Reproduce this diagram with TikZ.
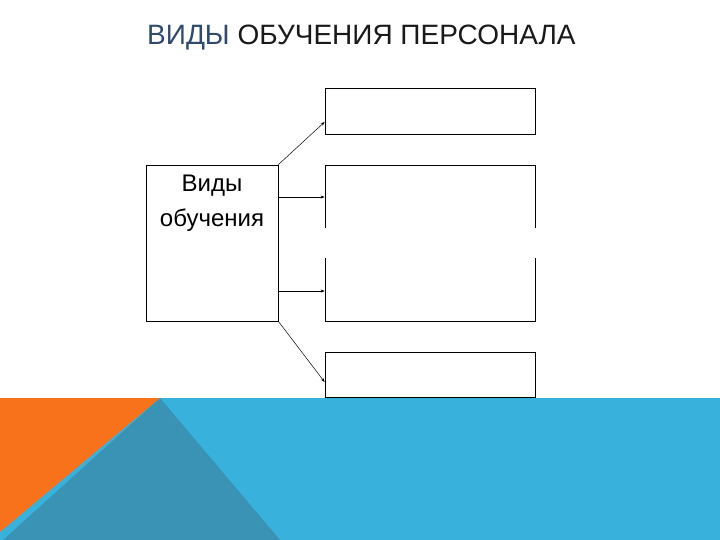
\documentclass[tikz,border=0pt]{standalone}
\usepackage{fontspec}
\setmainfont{Liberation Sans}
\usetikzlibrary{arrows.meta}
\definecolor{bandblue}{HTML}{38B2DC}
\definecolor{bandteal}{HTML}{3A93B4}
\definecolor{bandorange}{HTML}{F8721C}
\definecolor{titleblue}{HTML}{2F4A6D}

\begin{document}
\begin{tikzpicture}[x=1pt, y=-1pt,
    box/.style={draw, line width=0.8pt, minimum width=210pt, inner sep=0pt},
    link/.style={-{Stealth[length=4pt, width=3pt]}, line width=0.5pt},
    ttl/.style={font=\fontsize{28}{30}\selectfont, anchor=base west, inner sep=0pt}]
  \useasboundingbox (0,0) rectangle (720,540);

  % title
  \node[ttl] (title) at (147,45) {\textcolor{titleblue}{ВИДЫ} \textcolor{black!90}{ОБУЧЕНИЯ ПЕРСОНАЛА}};

  % --- left box ---
  \node[box, minimum width=132pt, minimum height=156pt] (kinds) at (212,243) {};
  \node[font=\fontsize{24}{35}\selectfont, align=center] (kindstxt) at (212,203) {Виды\\обучения};

  % --- right boxes ---
  \node[box, minimum height=46pt] (top) at (430,111) {};
  \node[box, minimum height=156pt] (mid) at (430,243) {};
  \fill[white] (318,228) rectangle (542,258);
  \node[box, minimum height=45pt] (low) at (430,375) {};

  % arrows
  \draw[link] (kinds.north east) -- ([yshift=-11pt]top.west);
  \draw[link] ([yshift=46pt]kinds.east) -- ([yshift=46pt]mid.west);
  \draw[link] ([yshift=-48pt]kinds.east) -- ([yshift=-48pt]mid.west);
  \draw[link] (kinds.south east) -- ([yshift=-7pt]low.west);

  % --- bottom band ---
  \fill[bandblue] (0,398) rectangle (720,540);
  \fill[bandteal] (160,398) -- (280,540) -- (3,540) -- cycle;
  \fill[bandorange] (0,398) -- (160,398) -- (0,532) -- cycle;
\end{tikzpicture}
\end{document}
